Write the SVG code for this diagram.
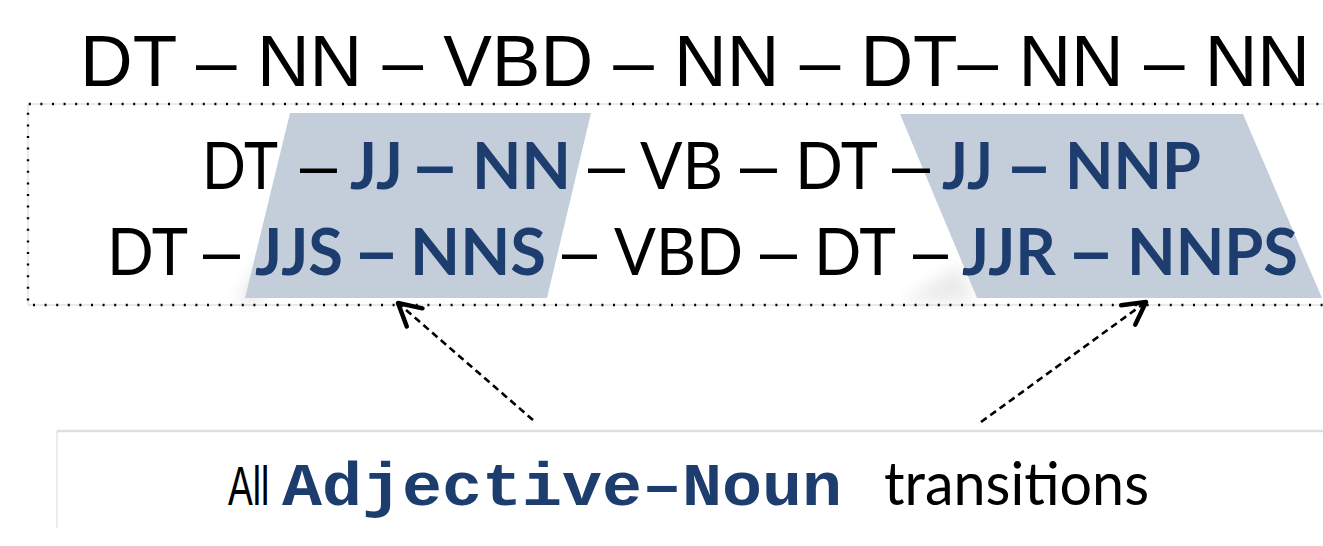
<svg xmlns="http://www.w3.org/2000/svg" width="1323" height="546" viewBox="0 0 1323 546">
<style>
.top{font-family:"Liberation Sans",Arial,sans-serif;font-size:72px;fill:#000}
.t{font-family:Lato,"Open Sans",sans-serif;font-size:65px;fill:#000}
.b{font-family:Lato,"Open Sans",sans-serif;font-size:65px;font-weight:bold;fill:#1e3d6f}
.d{font-family:"Liberation Sans",Arial,sans-serif;font-size:66px;fill:#000}
.db{font-family:"Liberation Sans",Arial,sans-serif;font-size:66px;font-weight:bold;fill:#1e3d6f}
.hl{fill:#c4cedb}
.cap{font-family:Lato,"Open Sans",sans-serif;font-size:60px;fill:#000}
.all{font-family:"Liberation Sans",Arial,sans-serif;font-size:40px;fill:#000}
.mono{font-family:"Liberation Mono","Courier New",monospace;font-size:62px;font-weight:bold;fill:#1e3d6f}
.conn{fill:none;stroke:#000;stroke-width:2.6;stroke-dasharray:7 4.5}
</style>
<defs>
<marker id="chev" markerUnits="userSpaceOnUse" viewBox="-3 -3 30 30" refX="22" refY="12" markerWidth="30" markerHeight="30" orient="auto">
<path d="M0,0 L22,12 L0,24" fill="none" stroke="#000" stroke-width="4.5" stroke-linecap="round" stroke-linejoin="round"/>
</marker>
<filter id="blur" x="-20%" y="-20%" width="140%" height="140%"><feGaussianBlur stdDeviation="8"/></filter>
</defs>
<rect width="1323" height="546" fill="#fff"/>

<g id="top-sequence">
<text class="top" x="80" y="86" textLength="1230" lengthAdjust="spacingAndGlyphs">DT – NN – VBD – NN – DT– NN – NN</text>
</g>

<g id="tag-box">
<path d="M1330,104 H28 V305 H1330" fill="none" stroke="#d6d6d6" stroke-width="1"/>
<path d="M1330,104 H28 V305 H1330" fill="none" stroke="#000" stroke-width="2.4" stroke-dasharray="2 9.6"/>
</g>

<g id="highlight-left">
<polygon points="236,302 270,250 262,302" fill="#000" opacity="0.10" filter="url(#blur)"/>
<polygon class="hl" points="290,113 591,113 547,298 245,298"/>
</g>
<g id="highlight-right">
<polygon points="900,302 960,265 975,302" fill="#000" opacity="0.08" filter="url(#blur)"/>
<polygon class="hl" points="900,114 1243,114 1322,298 977,298"/>
</g>

<g id="row1">
<text class="t" x="202" y="189" textLength="76" lengthAdjust="spacingAndGlyphs">DT</text>
<text class="d" x="300" y="188" textLength="37" lengthAdjust="spacingAndGlyphs">–</text>
<text class="b" x="350" y="189" textLength="53" lengthAdjust="spacingAndGlyphs">JJ</text>
<text class="db" x="415" y="188" textLength="40" lengthAdjust="spacingAndGlyphs">–</text>
<text class="b" x="472" y="189" textLength="99" lengthAdjust="spacingAndGlyphs">NN</text>
<text class="d" x="588" y="188" textLength="37" lengthAdjust="spacingAndGlyphs">–</text>
<text class="t" x="640" y="189" textLength="83" lengthAdjust="spacingAndGlyphs">VB</text>
<text class="d" x="740" y="188" textLength="37" lengthAdjust="spacingAndGlyphs">–</text>
<text class="t" x="795" y="189" textLength="83" lengthAdjust="spacingAndGlyphs">DT</text>
<text class="d" x="892" y="188" textLength="38" lengthAdjust="spacingAndGlyphs">–</text>
<text class="b" x="942" y="189" textLength="51" lengthAdjust="spacingAndGlyphs">JJ</text>
<text class="db" x="1010" y="188" textLength="38" lengthAdjust="spacingAndGlyphs">–</text>
<text class="b" x="1065" y="189" textLength="136" lengthAdjust="spacingAndGlyphs">NNP</text>
</g>

<g id="row2">
<text class="t" x="107" y="275" textLength="81" lengthAdjust="spacingAndGlyphs">DT</text>
<text class="d" x="203" y="274" textLength="37" lengthAdjust="spacingAndGlyphs">–</text>
<text class="b" x="255" y="275" textLength="88" lengthAdjust="spacingAndGlyphs">JJS</text>
<text class="db" x="358" y="274" textLength="37" lengthAdjust="spacingAndGlyphs">–</text>
<text class="b" x="410" y="275" textLength="136" lengthAdjust="spacingAndGlyphs">NNS</text>
<text class="d" x="562" y="274" textLength="35" lengthAdjust="spacingAndGlyphs">–</text>
<text class="t" x="614" y="275" textLength="129" lengthAdjust="spacingAndGlyphs">VBD</text>
<text class="d" x="760" y="274" textLength="37" lengthAdjust="spacingAndGlyphs">–</text>
<text class="t" x="814" y="275" textLength="82" lengthAdjust="spacingAndGlyphs">DT</text>
<text class="d" x="913" y="274" textLength="35" lengthAdjust="spacingAndGlyphs">–</text>
<text class="b" x="962" y="275" textLength="94" lengthAdjust="spacingAndGlyphs">JJR</text>
<text class="db" x="1072" y="274" textLength="38" lengthAdjust="spacingAndGlyphs">–</text>
<text class="b" x="1127" y="275" textLength="171" lengthAdjust="spacingAndGlyphs">NNPS</text>
</g>

<g id="caption">
<path d="M57,528 V431" fill="none" stroke="#d9d9d9" stroke-width="1"/>
<path d="M57,431 H1323" fill="none" stroke="#dedede" stroke-width="2.5"/>
<text class="all" transform="translate(228,505) scale(0.93,1.38)">All</text>
<text class="mono" x="282" y="505" textLength="560" lengthAdjust="spacingAndGlyphs">Adjective–Noun</text>
<text class="cap" x="884" y="505" textLength="265" lengthAdjust="spacingAndGlyphs">transitions</text>
</g>

<g id="connectors">
<path class="conn" d="M533,420 L398,303" marker-end="url(#chev)"/>
<path class="conn" d="M981,422 L1146,302" marker-end="url(#chev)"/>
</g>
</svg>
